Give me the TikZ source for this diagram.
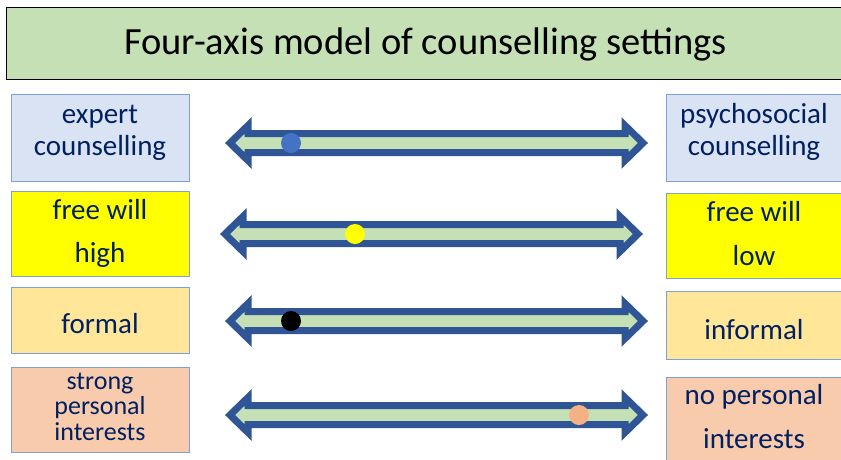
\documentclass[tikz,border=0pt]{standalone}
\usepackage{fontspec}
\setmainfont{Carlito}
\definecolor{titlegreen}{HTML}{C5E0B4}
\definecolor{arrowblue}{HTML}{2F5597}
\definecolor{navy}{HTML}{002060}
\definecolor{boxline}{HTML}{7F9FD8}
\definecolor{bluefill}{HTML}{DAE3F3}
\definecolor{yel}{HTML}{FFFF00}
\definecolor{formalfill}{HTML}{FFE699}
\definecolor{peach}{HTML}{F8CBAD}
\definecolor{dotblue}{HTML}{4472C4}
\definecolor{dotorange}{HTML}{F4B183}
\newcommand\axisarrow[3]{%
  \draw[axis] (#1,#3) -- ++(18,-17.5) -- ++(0,8) -- (#2-18,#3-9.5) -- ++(0,-8) -- (#2,#3)
     -- ++(-18,17.5) -- ++(0,-8) -- (#1+18,#3+9.5) -- ++(0,8) -- cycle;}
\begin{document}
\begin{tikzpicture}[x=1pt,y=-1pt,
  box/.style={draw=boxline,line width=1pt,inner sep=0,anchor=north west,minimum width=178pt},
  lbl/.style={anchor=base,text=navy,font=\fontsize{29}{29}\selectfont,inner sep=0},
  slbl/.style={lbl,font=\fontsize{26}{26}\selectfont},
  axis/.style={draw=arrowblue,fill=titlegreen,line width=7pt,miter limit=10},
  dot/.style={circle,inner sep=0,minimum size=20pt}]
\useasboundingbox (0,0) rectangle (841,459);
\begin{scope}
\clip (0,0) rectangle (841,459);
% title
\node[draw=black,line width=1.2pt,fill=titlegreen,inner sep=0,anchor=north west,
      minimum width=850pt,minimum height=72pt] (title) at (6,7) {};
\node[anchor=base,inner sep=0,font=\fontsize{38.5}{38.5}\selectfont] (titletext) at (425.5,54)
   {Four-axis model of counselling settings};
% left boxes
\node[box,fill=bluefill,minimum height=87pt] (expert) at (11,94) {};
\node[box,fill=yel,minimum height=85pt] (fwhigh) at (11,191) {};
\node[box,fill=formalfill,minimum height=66pt] (formal) at (11,287) {};
\node[box,fill=peach,minimum height=85pt] (strong) at (11,367) {};
% right boxes
\node[box,fill=bluefill,minimum height=87pt] (psycho) at (666,94) {};
\node[box,fill=yel,minimum height=85pt] (fwlow) at (666,193) {};
\node[box,fill=formalfill,minimum height=68pt] (informal) at (666,291) {};
\node[box,fill=peach,minimum height=87pt] (nopers) at (666,377) {};
% texts
\node[lbl] (t1a) at (100,123) {expert};
\node[lbl] (t1b) at (100,155) {counselling};
\node[lbl] (t2a) at (100,219) {free will};
\node[lbl] (t2b) at (100,262) {high};
\node[lbl] (t3a) at (100,333) {formal};
\node[slbl] (t4a) at (100,389) {strong};
\node[slbl] (t4b) at (100,414) {personal};
\node[slbl] (t4c) at (100,440) {interests};
\node[lbl] (r1a) at (754,123) {psychosocial};
\node[lbl] (r1b) at (754,155) {counselling};
\node[lbl] (r2a) at (754,221) {free will};
\node[lbl] (r2b) at (754,265) {low};
\node[lbl] (r3a) at (754,339) {informal};
\node[lbl] (r4a) at (754,404) {no personal};
\node[lbl] (r4b) at (754,448) {interests};
% axes
\axisarrow{230}{643}{143}
\axisarrow{225}{638}{234}
\axisarrow{230}{643}{321}
\axisarrow{230}{643}{415}
% markers
\node[dot,fill=dotblue] (d1) at (291,143) {};
\node[dot,fill=yel] (d2) at (355,234) {};
\node[dot,fill=black] (d3) at (291,321) {};
\node[dot,fill=dotorange] (d4) at (579,415) {};
\end{scope}
\end{tikzpicture}
\end{document}
